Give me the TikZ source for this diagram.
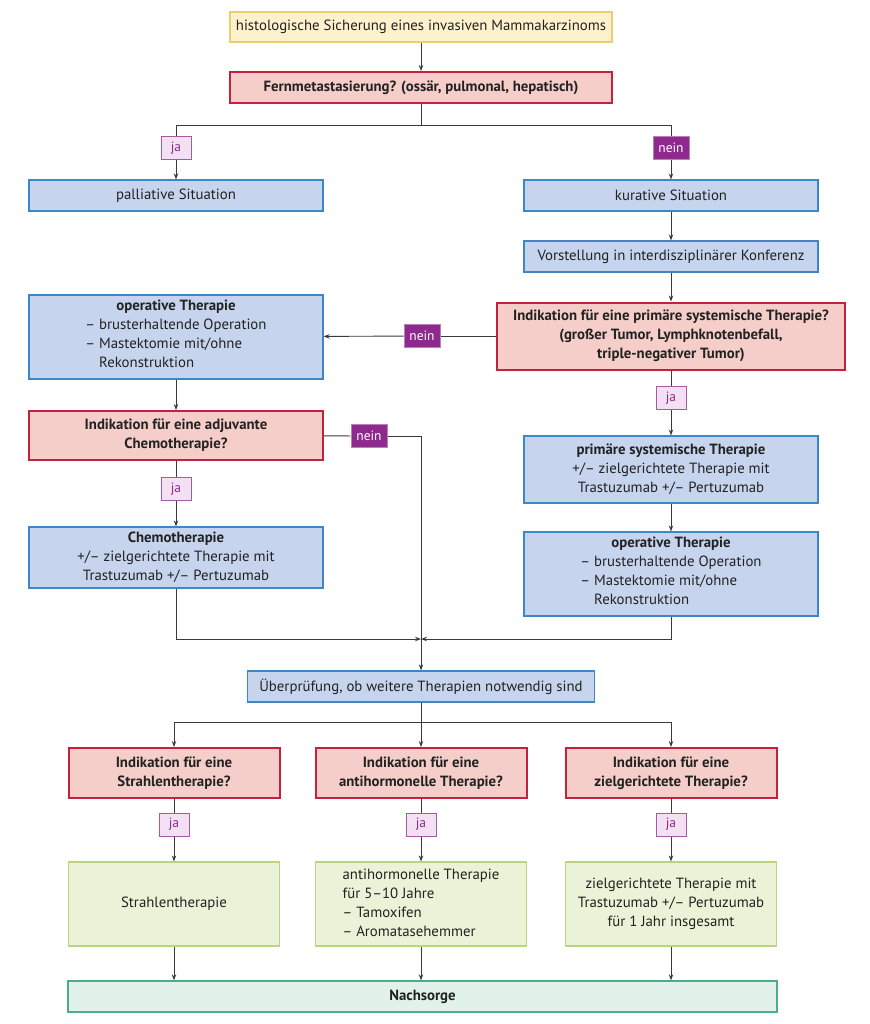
\documentclass[tikz,border=0pt]{standalone}
\usepackage{fontspec}
\setmainfont{PT Sans}
\usetikzlibrary{arrows.meta}

\definecolor{txt}{HTML}{222222}
\definecolor{linegray}{HTML}{3A3A3A}
\definecolor{yelfill}{HTML}{FDF2CC}
\definecolor{yelline}{HTML}{EDCD72}
\definecolor{pinkfill}{HTML}{F5CDC9}
\definecolor{pinkline}{HTML}{C4213F}
\definecolor{bluefill}{HTML}{C6D4EE}
\definecolor{blueline}{HTML}{3F86C6}
\definecolor{greenfill}{HTML}{EAF3D7}
\definecolor{greenline}{HTML}{B9D67E}
\definecolor{mintfill}{HTML}{E0F2EA}
\definecolor{mintline}{HTML}{4BAE88}
\definecolor{jafill}{HTML}{F3E1F3}
\definecolor{jaline}{HTML}{A45BA4}
\definecolor{neinfill}{HTML}{8E2A8E}

\tikzset{
  box/.style={rectangle, inner sep=0pt, align=center, text=txt,
    font=\fontsize{14.8}{19}\selectfont},
  yelbox/.style={box, fill=yelfill, draw=yelline, line width=1.2pt},
  pinkbox/.style={box, fill=pinkfill, draw=pinkline, line width=2pt},
  bluebox/.style={box, fill=bluefill, draw=blueline, line width=1.2pt},
  greenbox/.style={box, fill=greenfill, draw=greenline, line width=1.2pt},
  mintbox/.style={box, fill=mintfill, draw=mintline, line width=1.4pt},
  jalabel/.style={rectangle, fill=jafill, draw=jaline, line width=1pt, text=neinfill,
    minimum width=30pt, minimum height=23pt, inner sep=0pt, font=\fontsize{13.5}{15}\selectfont},
  neinlabel/.style={rectangle, fill=neinfill, draw=neinfill!60, line width=1pt, text=white,
    minimum width=36pt, minimum height=23pt, inner sep=0pt, font=\fontsize{13.5}{15}\selectfont},
  conn/.style={draw=linegray, line width=0.9pt},
  arr/.style={conn, -{Stealth[length=6pt,width=4.5pt]}}
}

\begin{document}
\begin{tikzpicture}[x=1pt,y=-1pt]
  \useasboundingbox (0,0) rectangle (869,1024);

  % top
  \node[yelbox, minimum width=382, minimum height=30] (histo) at (421,27)
    {histologische Sicherung eines invasiven Mammakarzinoms};
  \node[pinkbox, minimum width=382, minimum height=31] (fern) at (421,87.5)
    {\textbf{Fernmetastasierung? (ossär, pulmonal, hepatisch)}};
  \coordinate (split1) at (421,125);
  \node[jalabel] (ja1) at (176,148) {ja};
  \node[neinlabel] (nein1) at (671,148) {nein};

  % left column
  \node[bluebox, minimum width=294, minimum height=31] (pall) at (176,195.5) {palliative Situation};
  \node[bluebox, minimum width=294, minimum height=84] (opl) at (176,337)
    {\textbf{operative Therapie}\\
     \begin{tabular}[t]{@{}l@{}}– brusterhaltende Operation\\– Mastektomie mit/ohne\\\phantom{– }Rekonstruktion\end{tabular}};
  \node[pinkbox, minimum width=294, minimum height=49] (adj) at (176,435.5)
    {\textbf{Indikation für eine adjuvante}\\\textbf{Chemotherapie?}};
  \node[jalabel] (ja4) at (176,489) {ja};
  \node[neinlabel] (nein3) at (369,436) {nein};
  \node[bluebox, minimum width=294, minimum height=61] (chemo) at (176,557.5)
    {\textbf{Chemotherapie}\\+/– zielgerichtete Therapie mit\\Trastuzumab +/– Pertuzumab};

  % right column
  \node[bluebox, minimum width=294, minimum height=31] (kur) at (671,195.5) {kurative Situation};
  \node[bluebox, minimum width=294, minimum height=31] (konf) at (671,256.5)
    {Vorstellung in interdisziplinärer Konferenz};
  \node[pinkbox, minimum width=348, minimum height=67] (psys) at (671,336)
    {\textbf{Indikation für eine primäre systemische Therapie?}\\\textbf{(großer Tumor, Lymphknotenbefall,}\\\textbf{triple-negativer Tumor)}};
  \node[neinlabel] (nein2) at (422,336) {nein};
  \node[jalabel] (ja3) at (671,398) {ja};
  \node[bluebox, minimum width=294, minimum height=67] (pst) at (671,469.5)
    {\textbf{primäre systemische Therapie}\\+/– zielgerichtete Therapie mit\\Trastuzumab +/– Pertuzumab};
  \node[bluebox, minimum width=294, minimum height=84] (opr) at (671,574)
    {\textbf{operative Therapie}\\
     \begin{tabular}[t]{@{}l@{}}– brusterhaltende Operation\\– Mastektomie mit/ohne\\\phantom{– }Rekonstruktion\end{tabular}};

  % bottom
  \coordinate (join) at (421,639);
  \node[bluebox, minimum width=347, minimum height=31] (check) at (421,686.5)
    {Überprüfung, ob weitere Therapien notwendig sind};
  \coordinate (split2) at (421,722);
  \node[pinkbox, minimum width=211, minimum height=50] (strq) at (174,773)
    {\textbf{Indikation für eine}\\\textbf{Strahlentherapie?}};
  \node[pinkbox, minimum width=211, minimum height=50] (ahq) at (421,773)
    {\textbf{Indikation für eine}\\\textbf{antihormonelle Therapie?}};
  \node[pinkbox, minimum width=211, minimum height=50] (ztq) at (671,773)
    {\textbf{Indikation für eine}\\\textbf{zielgerichtete Therapie?}};
  \node[jalabel] (ja5) at (174,824.5) {ja};
  \node[jalabel] (ja6) at (421,824.5) {ja};
  \node[jalabel] (ja7) at (671,824.5) {ja};
  \node[greenbox, minimum width=211, minimum height=84] (str) at (174,904) {Strahlentherapie};
  \node[greenbox, minimum width=211, minimum height=84] (ah) at (421,904)
    {\begin{tabular}{@{}l@{}}antihormonelle Therapie\\für 5–10 Jahre\\– Tamoxifen\\– Aromatasehemmer\end{tabular}};
  \node[greenbox, minimum width=211, minimum height=84] (zt) at (671,904)
    {zielgerichtete Therapie mit\\Trastuzumab +/– Pertuzumab\\für 1 Jahr insgesamt};
  \node[mintbox, minimum width=709, minimum height=31] (nach) at (422.5,996.5) {\textbf{Nachsorge}};

  % connectors
  \draw[arr] (histo) -- (fern);
  \draw[conn] (fern) -- (split1);
  \draw[conn] (split1) -| (ja1);
  \draw[conn] (split1) -| (nein1);
  \draw[arr] (ja1) -- (pall);
  \draw[arr] (nein1) -- (kur);
  \draw[arr] (kur) -- (konf);
  \draw[arr] (konf) -- (psys);
  \draw[conn] (psys) -- (nein2);
  \draw[arr] (nein2) -- (opl);
  \draw[conn] (psys) -- (ja3);
  \draw[arr] (ja3) -- (pst);
  \draw[arr] (pst) -- (opr);
  \draw[arr] (opl) -- (adj);
  \draw[conn] (adj) -- (ja4);
  \draw[arr] (ja4) -- (chemo);
  \draw[conn] (adj) -- (nein3);
  \draw[arr] (nein3) -| (check);
  \draw[arr] (chemo) |- (join);
  \draw[arr] (opr) |- (join);
  \draw[conn] (check) -- (split2);
  \draw[arr] (split2) -| (strq);
  \draw[arr] (split2) -- (ahq);
  \draw[arr] (split2) -| (ztq);
  \draw[conn] (strq) -- (ja5);
  \draw[conn] (ahq) -- (ja6);
  \draw[conn] (ztq) -- (ja7);
  \draw[arr] (ja5) -- (str);
  \draw[arr] (ja6) -- (ah);
  \draw[arr] (ja7) -- (zt);
  \draw[arr] (str) -- (str |- nach.north);
  \draw[arr] (ah) -- (ah |- nach.north);
  \draw[arr] (zt) -- (zt |- nach.north);
\end{tikzpicture}
\end{document}
